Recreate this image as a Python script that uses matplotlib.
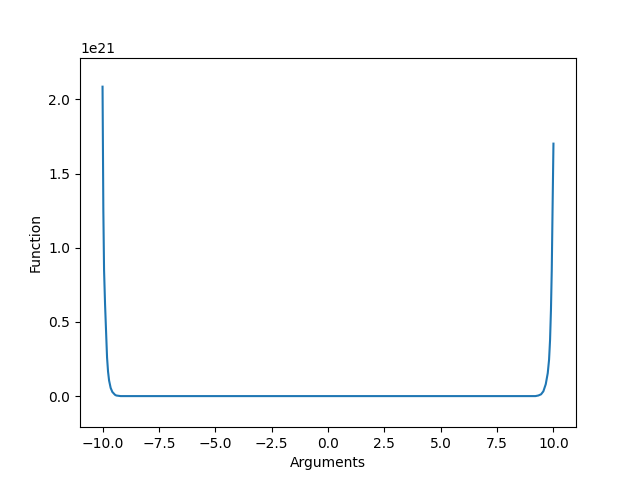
import numpy as np
import matplotlib
matplotlib.use('Agg')
import matplotlib.pyplot as plt

# values (units of 1e21)
args = [-10.0, -9.965, -9.933, -9.889, -9.83, -9.80, -9.756, -9.71, -9.64, -9.565, -9.45, -9.39, -9.2,
        -5.0, 0.0, 5.0,
        9.2, 9.33, 9.45, 9.552, 9.658, 9.747, 9.805, 9.849, 9.889, 9.925, 9.96, 10.0]
func = [2.086, 1.256, 0.851, 0.62, 0.38, 0.26, 0.165, 0.105, 0.055, 0.028, 0.009, 0.004, 0.0,
        0.0, 0.0, 0.0,
        0.0, 0.004, 0.012, 0.032, 0.08, 0.155, 0.245, 0.377, 0.58, 0.851, 1.256, 1.702]
scale = 1e21

x = np.array(args)
y = np.array(func) * scale

fig, ax = plt.subplots(figsize=(6.4, 4.8), dpi=100)
ax.plot(x, y)
ax.set_ylim(-0.2097 * scale, 2.282 * scale)
ax.set_xlabel('Arguments')
ax.set_ylabel('Function')
fig.savefig('out.png')
